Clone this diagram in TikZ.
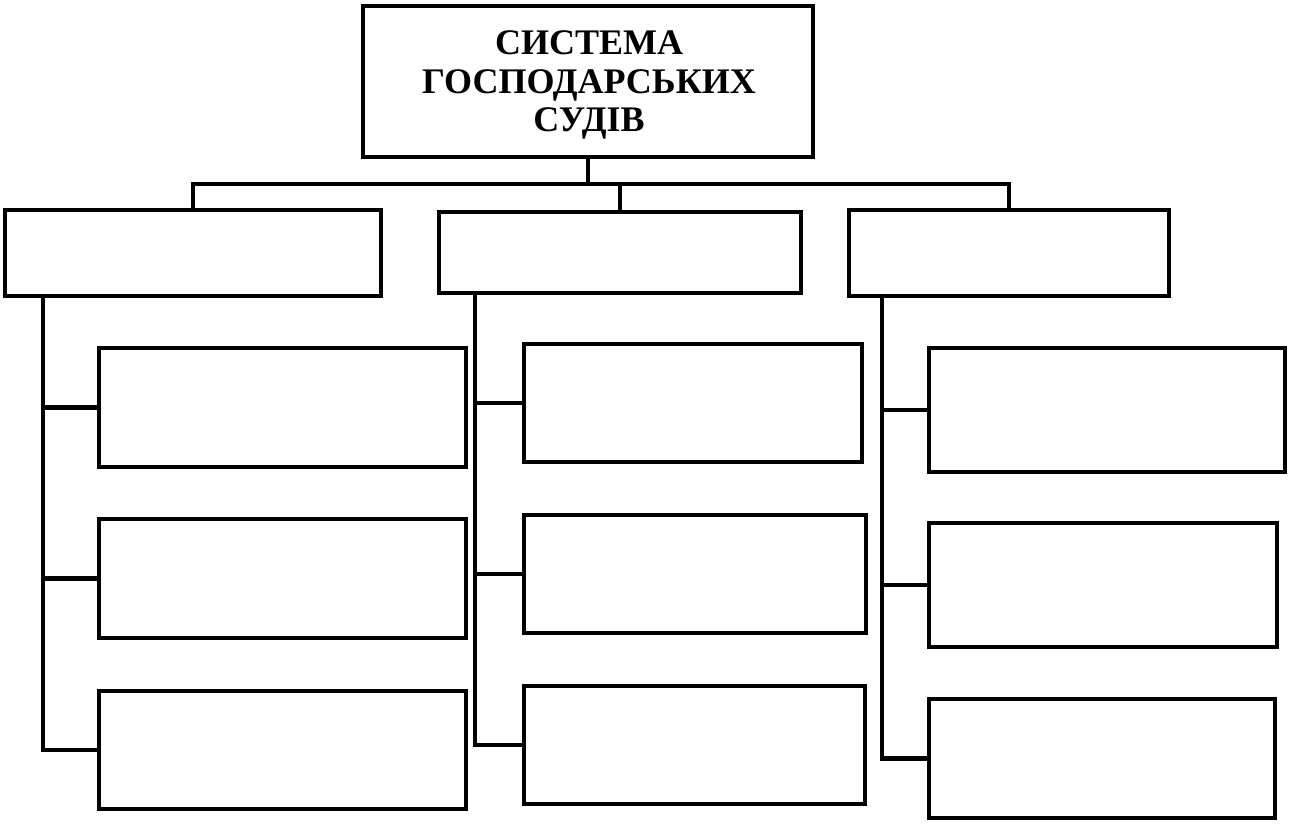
\documentclass[tikz,border=0pt]{standalone}
\usepackage{fontspec}
\setmainfont{Liberation Serif}
\usetikzlibrary{fit}
\begin{document}
\begin{tikzpicture}[x=0.75pt,y=-0.75pt,
  box/.style={draw=black, line width=3.6pt, inner sep=0pt, outer sep=0pt},
  wire/.style={draw=black, line width=3.6pt, line join=miter},
  title/.style={font=\bfseries\fontsize{27pt}{29pt}\selectfont, align=center}]
\useasboundingbox (0,0) rectangle (1294,828);
% top
\node[box, fit={(363,6) (813,157)}] (top) {};
\node[title] (ttl) at (589,85) {СИСТЕМА\\ГОСПОДАРСЬКИХ\\СУДІВ};
% level 1
\node[box, fit={(5,210) (381,296)}] (l1) {};
\node[box, fit={(439,212) (801,293)}] (m1) {};
\node[box, fit={(849,210) (1169,296)}] (r1) {};
% left column
\node[box, fit={(99,348) (466,467)}] (l2) {};
\node[box, fit={(99,519) (466,638)}] (l3) {};
\node[box, fit={(99,691) (466,809)}] (l4) {};
% middle column
\node[box, fit={(524,344) (862,462)}] (m2) {};
\node[box, fit={(524,515) (866,633)}] (m3) {};
\node[box, fit={(524,686) (865,804)}] (m4) {};
% right column
\node[box, fit={(929,348) (1285,472)}] (r2) {};
\node[box, fit={(929,523) (1277,647)}] (r3) {};
\node[box, fit={(929,699) (1275,818)}] (r4) {};
% coordinates
\coordinate (bus) at (588,184);
\coordinate (lcol) at (43,0);
\coordinate (mcol) at (475,0);
\coordinate (rcol) at (882,0);
% bus connectors
\draw[wire] (top.south) -- (bus);
\draw[wire] (l1.north) -- (l1.north |- bus) -- (r1.north |- bus) -- (r1.north);
\draw[wire] (m1.north |- bus) -- (m1.north);
% left column
\draw[wire] (l1.south -| lcol) |- (l4.west);
\draw[wire] (l2.west -| lcol) -- (l2.west);
\draw[wire] (l3.west -| lcol) -- (l3.west);
% middle column
\draw[wire] (m1.south -| mcol) |- (m4.west);
\draw[wire] (m2.west -| mcol) -- (m2.west);
\draw[wire] (m3.west -| mcol) -- (m3.west);
% right column
\draw[wire] (r1.south -| rcol) |- (r4.west);
\draw[wire] (r2.west -| rcol) -- (r2.west);
\draw[wire] (r3.west -| rcol) -- (r3.west);
\end{tikzpicture}
\end{document}
